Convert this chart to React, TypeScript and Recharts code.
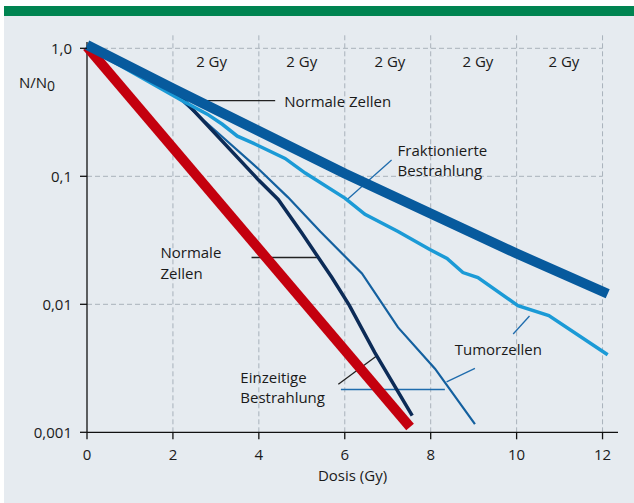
import React from 'react';
import { ComposedChart, Line, XAxis, YAxis, ReferenceLine, ReferenceDot } from 'recharts';

// axes
const doseTicks = [0, 2, 4, 6, 8, 10, 12];
const gridDoses = [2, 4, 6, 8, 10, 12];
const survivalTicks = [0.001, 0.01, 0.1, 1];
const survivalTickLabels = ['0,001', '0,01', '0,1', '1,0'];
const gridSurvival = [0.01, 0.1, 1];

// "2 Gy" fractions
const fractionLabelDose = [2.9, 5.0, 7.05, 9.1, 11.1];
const fractionLabelSurv = 0.718;

// fraktionierte Bestrahlung, normale Zellen (thick blue)
const normFracDose = [0, 2, 6, 10, 12.12];
const normFracSurv = [1.06, 0.486, 0.105, 0.0249, 0.0121];

// einzeitige Bestrahlung (red)
const singleDose = [0, 7.52];
const singleSurv = [1.03, 0.0011];

// einzeitig, normale Zellen (navy)
const normSingleDose = [0, 2.15, 4.0, 4.45, 5.0, 5.7, 6.1, 6.7, 7.57];
const normSingleSurv = [1.03, 0.43, 0.093, 0.066, 0.036, 0.0162, 0.0099, 0.0042, 0.00135];

// einzeitig, Tumorzellen (medium blue)
const tumSingleDose = [0, 2.1, 4.03, 4.68, 5.43, 6.4, 7.24, 8.1, 9.03];
const tumSingleSurv = [1.03, 0.418, 0.111, 0.0685, 0.037, 0.0174, 0.0066, 0.00314, 0.00116];

// fraktioniert, Tumorzellen (cyan)
const tumFracDose = [0, 2.24, 2.8, 3.15, 3.5, 3.92, 4.61, 5.08, 6.01, 6.47, 7.24, 7.98, 8.38, 8.75, 9.1, 10.03, 10.75, 12.12];
const tumFracSurv = [1.03, 0.386, 0.306, 0.255, 0.206, 0.178, 0.138, 0.106, 0.0673, 0.0504, 0.0371, 0.0268, 0.0228, 0.0177, 0.0162, 0.00977, 0.00816, 0.00404];

// annotations: [dose, survival] of first baseline, lines of text
const annotations = [
  { dose: 4.59, surv: 0.351, lines: ['Normale Zellen'] },
  { dose: 7.23, surv: 0.145, lines: ['Fraktionierte', 'Bestrahlung'] },
  { dose: 1.71, surv: 0.0229, lines: ['Normale', 'Zellen'] },
  { dose: 3.57, surv: 0.00244, lines: ['Einzeitige', 'Bestrahlung'] },
  { dose: 8.56, surv: 0.00402, lines: ['Tumorzellen'] },
];

// leader lines
const blackLeaders = [
  [[2.7, 0.39], [4.38, 0.39]],
  [[3.83, 0.0232], [5.38, 0.0232]],
  [[5.85, 0.00237], [6.74, 0.00394]],
];
const blueLeaders = [
  [[6.045, 0.0653], [7.09, 0.134]],
  [[5.91, 0.00216], [8.33, 0.00216]],
  [[8.37, 0.00248], [9.03, 0.00316]],
  [[9.92, 0.00586], [10.3, 0.0081]],
];

const pairs = (xs: number[], ys: number[]) => xs.map((x, i) => ({ x, y: ys[i] }));

const FONT = '"Open Sans", sans-serif';
const textStyle = { fontFamily: FONT, fontSize: 15, fill: '#1a1a1a' };

const multiLine = (lines: string[]) => (props: any) => {
  const vb = props.viewBox || {};
  const x = vb.x ?? 0;
  const y = vb.y ?? 0;
  return (
    <text x={x} y={y} style={textStyle}>
      {lines.map((l, i) => (
        <tspan key={i} x={x} dy={i === 0 ? 0 : 20.6}>
          {l}
        </tspan>
      ))}
    </text>
  );
};

const gyLabel = (props: any) => {
  const vb = props.viewBox || {};
  return (
    <text x={vb.x} y={vb.y} style={textStyle} textAnchor="middle">
      2 Gy
    </text>
  );
};

const yTitle = (props: any) => {
  const vb = props.viewBox || { x: 27, y: 33 };
  return (
    <text x={vb.x - 8} y={vb.y + 54.5} style={textStyle}>
      N/N
      <tspan dy={3} fontSize={14}>0</tspan>
    </text>
  );
};

const App: React.FC = () => {
  return (
    <div style={{ position: 'absolute', left: 0, top: 0, width: 634, height: 503, background: '#fff' }}>
      <div style={{ position: 'absolute', left: 4, top: 6, width: 630, height: 10, background: '#008451' }} />
      <div style={{ position: 'absolute', left: 4, top: 16, width: 630, height: 487, background: '#e6ebf0' }} />
      <div style={{ position: 'absolute', left: 0, top: 0 }}>
        <ComposedChart width={634} height={503} margin={{ top: 33, right: 16, bottom: 20.7, left: 27 }}>
          <XAxis
            type="number"
            dataKey="x"
            domain={[0, 12.36]}
            ticks={doseTicks}
            height={50}
            tickSize={7}
            tickMargin={10}
            axisLine={{ stroke: '#111', strokeWidth: 1.3 }}
            tickLine={{ stroke: '#111', strokeWidth: 1.3 }}
            tick={{ ...textStyle }}
            label={{ value: 'Dosis (Gy)', position: 'insideBottom', offset: 1, style: textStyle }}
          />
          <YAxis
            type="number"
            dataKey="y"
            scale="log"
            domain={[0.001, 1.317]}
            ticks={survivalTicks}
            tickFormatter={(v: number) => survivalTickLabels[survivalTicks.indexOf(v)] ?? String(v)}
            width={60}
            tickSize={7}
            tickMargin={8}
            axisLine={false}
            tickLine={{ stroke: '#111', strokeWidth: 1.3 }}
            tick={{ ...textStyle }}
            label={{ content: yTitle }}
          />

          {gridDoses.map((d) => (
            <ReferenceLine key={'gx' + d} x={d} stroke="#a9b2bb" strokeWidth={1} strokeDasharray="5 3" />
          ))}
          {gridSurvival.map((s) => (
            <ReferenceLine
              key={'gy' + s}
              segment={[{ x: 0, y: s }, { x: 12, y: s }]}
              stroke="#a9b2bb"
              strokeWidth={1}
              strokeDasharray="5 3"
            />
          ))}
          <ReferenceLine segment={[{ x: 0, y: 0.001 }, { x: 0, y: 1.12 }]} stroke="#111" strokeWidth={1.3} />

          {blackLeaders.map((s, i) => (
            <ReferenceLine
              key={'bl' + i}
              segment={[{ x: s[0][0], y: s[0][1] }, { x: s[1][0], y: s[1][1] }]}
              stroke="#222"
              strokeWidth={1.3}
            />
          ))}
          {blueLeaders.map((s, i) => (
            <ReferenceLine
              key={'ul' + i}
              segment={[{ x: s[0][0], y: s[0][1] }, { x: s[1][0], y: s[1][1] }]}
              stroke="#1f6cad"
              strokeWidth={1.3}
            />
          ))}

          <Line data={pairs(singleDose, singleSurv)} dataKey="y" type="linear" stroke="#c4000e" strokeWidth={10} dot={false} isAnimationActive={false} />
          <Line data={pairs(tumSingleDose, tumSingleSurv)} dataKey="y" type="linear" stroke="#14609f" strokeWidth={2.2} dot={false} isAnimationActive={false} />
          <Line data={pairs(normSingleDose, normSingleSurv)} dataKey="y" type="linear" stroke="#0c2b57" strokeWidth={3.5} dot={false} isAnimationActive={false} />
          <Line data={pairs(tumFracDose, tumFracSurv)} dataKey="y" type="linear" stroke="#1b9ad6" strokeWidth={3.5} dot={false} isAnimationActive={false} />
          <Line data={pairs(normFracDose, normFracSurv)} dataKey="y" type="linear" stroke="#075a9d" strokeWidth={10} dot={false} isAnimationActive={false} />

          {fractionLabelDose.map((d) => (
            <ReferenceDot key={'gy' + d} x={d} y={fractionLabelSurv} r={0} fill="none" stroke="none" label={{ content: gyLabel }} />
          ))}
          {annotations.map((a, i) => (
            <ReferenceDot key={'an' + i} x={a.dose} y={a.surv} r={0} fill="none" stroke="none" label={{ content: multiLine(a.lines) }} />
          ))}
        </ComposedChart>
      </div>
    </div>
  );
};

export default App;
